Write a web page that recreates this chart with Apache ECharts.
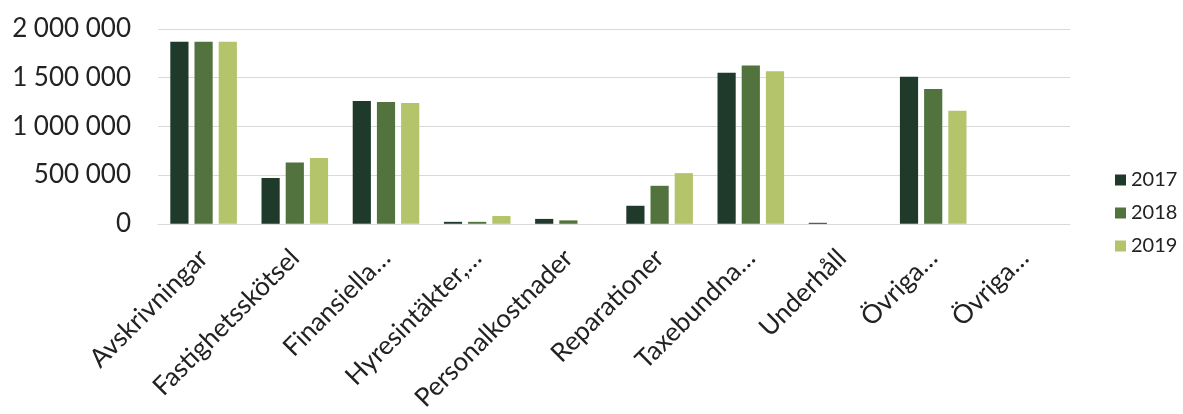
<!DOCTYPE html>
<html>
<head>
<meta charset="utf-8">
<script src="https://cdn.jsdelivr.net/npm/echarts@6/dist/echarts.min.js"></script>
<style>
  html, body { margin: 0; padding: 0; background: #fff; }
  #chart { width: 1183px; height: 414px; }
</style>
</head>
<body>
<div id="chart"></div>
<script>
  // kategorier och värden
  var categories = ['Avskrivningar', 'Fastighetsskötsel', 'Finansiella…', 'Hyresintäkter,…',
    'Personalkostnader', 'Reparationer', 'Taxebundna…', 'Underhåll', 'Övriga…', 'Övriga…'];
  var years = ['2017', '2018', '2019'];
  var values2017 = [1870000, 470000, 1260000, 20000, 50000, 185000, 1550000, 10000, 1510000, 0];
  var values2018 = [1870000, 630000, 1250000, 20000, 35000, 390000, 1625000, 0, 1385000, 0];
  var values2019 = [1870000, 675000, 1240000, 80000, 0, 520000, 1565000, 0, 1160000, 0];
  var yTicks = [0, 500000, 1000000, 1500000, 2000000];

  var colors = ['#1f3a2b', '#52733e', '#b3c46a'];
  var font = 'Lato, "Open Sans", sans-serif';

  var chart = echarts.init(document.getElementById('chart'));

  function fmt(v) {
    return String(v).replace(/\B(?=(\d{3})+(?!\d))/g, ' ');
  }

  var option = {
    animation: false,
    color: colors,
    grid: { left: 158, right: 113, top: 29, bottom: 190 },
    legend: {
      orient: 'vertical',
      left: 1110,
      top: 165,
      itemWidth: 11,
      itemHeight: 11,
      itemGap: 13,
      icon: 'rect',
      data: years,
      textStyle: { fontFamily: font, fontSize: 20, color: '#222' }
    },
    xAxis: {
      type: 'category',
      data: categories,
      axisTick: { show: false },
      axisLine: { lineStyle: { color: '#d9d9d9' } },
      axisLabel: {
        rotate: 45,
        interval: 0,
        margin: 30,
        fontFamily: font,
        fontSize: 26,
        color: '#222'
      }
    },
    yAxis: {
      type: 'value',
      min: yTicks[0],
      max: yTicks[yTicks.length - 1],
      interval: 500000,
      axisLine: { show: false },
      axisTick: { show: false },
      splitLine: { lineStyle: { color: '#d9d9d9' } },
      axisLabel: {
        margin: 27,
        fontFamily: font,
        fontSize: 26,
        color: '#222',
        formatter: fmt
      }
    },
    series: [
      { name: years[0], type: 'bar', data: values2017, barGap: '33%', barCategoryGap: '27%' },
      { name: years[1], type: 'bar', data: values2018, barGap: '33%', barCategoryGap: '27%' },
      { name: years[2], type: 'bar', data: values2019, barGap: '33%', barCategoryGap: '27%' }
    ]
  };

  chart.setOption(option);
  window.addEventListener('resize', chart.resize);
</script>
</body>
</html>
